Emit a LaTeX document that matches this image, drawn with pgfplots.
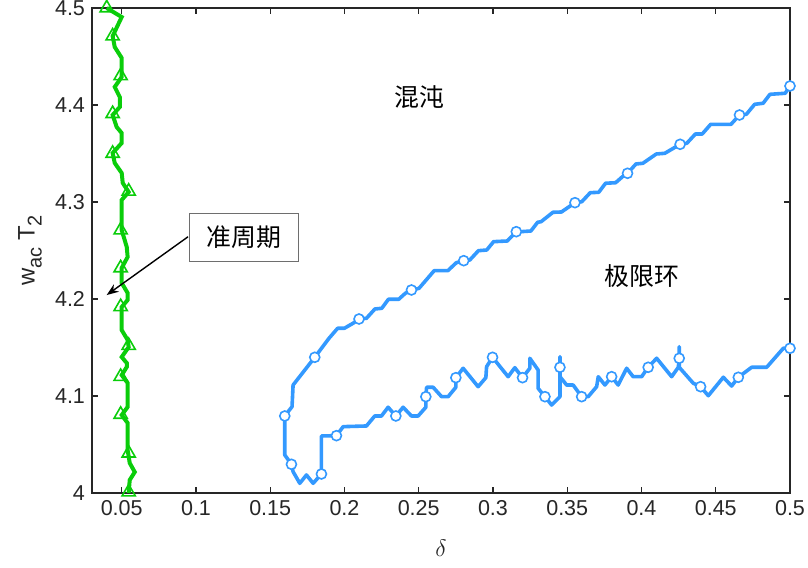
\documentclass[border=0pt]{standalone}
\usepackage{fontspec}
\setmainfont{Liberation Sans}
\newfontfamily\cjk{Noto Sans CJK SC}
\usepackage{pgfplots}
\pgfplotsset{compat=1.18}
\usetikzlibrary{arrows.meta}
\definecolor{mblue}{RGB}{51,153,255}
\definecolor{mgreen}{RGB}{10,205,10}
\definecolor{axgray}{RGB}{38,38,38}
\newcommand{\sub}[1]{\raisebox{-0.55ex}{\fontsize{10}{11}\selectfont #1}}
\begin{document}
\begin{tikzpicture}
\begin{axis}[
  scale only axis, width=349bp, height=242.5bp,
  xmin=0.03, xmax=0.5, ymin=4, ymax=4.5,
  xtick={0.05,0.1,0.15,0.2,0.25,0.3,0.35,0.4,0.45,0.5},
  xticklabels={0.05,0.1,0.15,0.2,0.25,0.3,0.35,0.4,0.45,0.5},
  ytick={4,4.1,4.2,4.3,4.4,4.5},
  yticklabels={4,4.1,4.2,4.3,4.4,4.5},
  tick align=inside, major tick length=3bp,
  axis line style={axgray, line width=0.6bp},
  every tick/.style={axgray, line width=0.6bp},
  tick label style={color=axgray, font=\fontsize{10.8}{13}\selectfont},
  clip=false,
  xlabel={\fontsize{12}{14}\selectfont$\delta$},
  xlabel style={at={(axis description cs:0.5,0)}, anchor=center, yshift=-27.5bp, color=axgray},
  ylabel={\fontsize{12}{14}\selectfont w\sub{ac}\ T\sub{2}},
  ylabel style={at={(axis description cs:0,0.5)}, anchor=center, rotate=0, yshift=31bp, xshift=0bp, color=axgray},
]
% green quasi-periodic boundary
\addplot[mgreen, line width=2bp] coordinates {
(0.0399,4.5) (0.0500,4.4907) (0.0439,4.4710) (0.0453,4.4598) (0.0500,4.4485)
(0.0500,4.4289) (0.0453,4.4186) (0.0487,4.4082) (0.0487,4.3979) (0.0439,4.3897)
(0.0466,4.3773) (0.0500,4.3711) (0.0500,4.3608) (0.0439,4.3505) (0.0453,4.3402)
(0.0500,4.3299) (0.0507,4.3196) (0.0547,4.3103) (0.0500,4.3021) (0.0500,4.2711)
(0.0534,4.2536) (0.0540,4.2433) (0.0500,4.2320) (0.0500,4.2165) (0.0540,4.2062)
(0.0540,4.1990) (0.0500,4.1918) (0.0500,4.1680) (0.0540,4.1577) (0.0547,4.1505)
(0.0500,4.1402) (0.0534,4.1340) (0.0534,4.1299) (0.0500,4.1216) (0.0540,4.1134)
(0.0540,4.0887) (0.0500,4.0804) (0.0540,4.0722) (0.0540,4.0443) (0.0554,4.0309)
(0.0588,4.0216) (0.0554,4.0134) (0.0547,4.0000)
};
\addplot[only marks, mark=triangle, mark size=3.8bp, mark options={draw=mgreen, fill=white, line width=0.8bp}] coordinates {
(0.0399,4.5) (0.0439,4.471) (0.0493,4.430) (0.0439,4.391) (0.0439,4.350)
(0.0547,4.311) (0.0493,4.271) (0.0493,4.232) (0.0493,4.192) (0.0547,4.152)
(0.0493,4.120) (0.0493,4.081) (0.0547,4.041) (0.0547,4.001)
};
% blue limit cycle boundary
\addplot[mblue, line width=1.8bp, line join=round] coordinates {
(0.5000,4.4196) (0.4968,4.4121) (0.4865,4.4110) (0.4819,4.4018) (0.4762,4.4007)
(0.4706,4.3904) (0.4660,4.3897) (0.4603,4.3801) (0.4466,4.3801) (0.4409,4.3701)
(0.4363,4.3701) (0.4305,4.3605) (0.4260,4.3595) (0.4157,4.3502) (0.4100,4.3495)
(0.4009,4.3399) (0.3963,4.3392) (0.3906,4.3296) (0.3872,4.3261) (0.3826,4.3199)
(0.3758,4.3193) (0.3712,4.3100) (0.3655,4.3096) (0.3598,4.3003) (0.3552,4.2993)
(0.3461,4.2897) (0.3404,4.2894) (0.3324,4.2797) (0.3301,4.2791) (0.3255,4.2701)
(0.3186,4.2694) (0.3157,4.2694) (0.3096,4.2598) (0.3004,4.2591) (0.2958,4.2505)
(0.2902,4.2498) (0.2844,4.2402) (0.2803,4.2395) (0.2753,4.2374) (0.2696,4.2292)
(0.2604,4.2292) (0.2502,4.2110) (0.2451,4.2093) (0.2410,4.2059) (0.2365,4.1997)
(0.2296,4.1997) (0.2251,4.1904) (0.2205,4.1897) (0.2148,4.1801) (0.2098,4.1794)
(0.2057,4.1749) (0.1999,4.1698) (0.1954,4.1698) (0.1896,4.1595) (0.1800,4.1399)
(0.1654,4.1113) (0.1647,4.0890) (0.1598,4.0794) (0.1598,4.0392) (0.1643,4.0296)
(0.1654,4.0220) (0.1699,4.0100) (0.1744,4.0186) (0.1789,4.0100) (0.1845,4.0196)
(0.1845,4.0588) (0.1946,4.0591) (0.1991,4.0684) (0.2148,4.0691) (0.2204,4.0794)
(0.2249,4.0794) (0.2294,4.0884) (0.2346,4.0794) (0.2395,4.0884) (0.2451,4.0794)
(0.2496,4.0794) (0.2548,4.0884) (0.2548,4.0993) (0.2553,4.1090) (0.2597,4.1090)
(0.2654,4.0993) (0.2698,4.0993) (0.2750,4.1090) (0.2750,4.1189) (0.2799,4.1286)
(0.2900,4.1096) (0.2952,4.1189) (0.2957,4.1302) (0.2997,4.1399) (0.3102,4.1199)
(0.3147,4.1292) (0.3199,4.1189) (0.3248,4.1286) (0.3248,4.1389) (0.3304,4.1268)
(0.3304,4.1079) (0.3350,4.0993) (0.3395,4.0907) (0.3451,4.0993) (0.3451,4.1405)
(0.3451,4.1296) (0.3451,4.1199) (0.3496,4.1113) (0.3540,4.1113) (0.3597,4.0993)
(0.3641,4.0993) (0.3698,4.1096) (0.3709,4.1199) (0.3754,4.1113) (0.3799,4.1199)
(0.3843,4.1113) (0.3900,4.1286) (0.3944,4.1199) (0.4001,4.1199) (0.4045,4.1296)
(0.4102,4.1389) (0.4203,4.1199) (0.4248,4.1296) (0.4254,4.1389) (0.4254,4.1508)
(0.4254,4.1296) (0.4349,4.1131) (0.4398,4.1096) (0.4450,4.1003) (0.4551,4.1193)
(0.4607,4.1103) (0.4652,4.1193) (0.4742,4.1296) (0.4843,4.1296) (0.4955,4.1492)
(0.5000,4.1492)
};
\addplot[only marks, mark=*, mark size=2.5bp, mark options={draw=mblue, fill=white, line width=0.8bp}] coordinates {
(0.5000,4.4196) (0.4660,4.3897) (0.4260,4.3595) (0.3906,4.3296) (0.3552,4.2993)
(0.3157,4.2694) (0.2803,4.2395) (0.2451,4.2093) (0.2098,4.1794) (0.1800,4.1399)
(0.1598,4.0794) (0.1643,4.0296) (0.1845,4.0196) (0.1946,4.0591) (0.2346,4.0794)
(0.2548,4.0993) (0.2750,4.1189) (0.2997,4.1399) (0.3199,4.1189) (0.3350,4.0993)
(0.3451,4.1296) (0.3597,4.0993) (0.3799,4.1199) (0.4045,4.1296) (0.4254,4.1389)
(0.4398,4.1096) (0.4652,4.1193) (0.5000,4.1492)
};
\node[font=\cjk\fontsize{12.5}{14}\selectfont] at (axis cs:0.2507,4.4082) {混沌};
\node[font=\cjk\fontsize{12.5}{14}\selectfont] at (axis cs:0.4003,4.2237) {极限环};
\draw[black, line width=0.7bp, -{Stealth[length=6bp,width=4.5bp]}] (axis cs:0.0947,4.2642) -- (axis cs:0.0399,4.2041);
\node[draw={rgb,255:red,110;green,110;blue,110}, line width=0.5bp, fill=white, minimum width=54.5bp, minimum height=24bp, inner sep=0pt, font=\cjk\fontsize{12.5}{14}\selectfont] at (axis cs:0.1325,4.2634) {准周期};
\end{axis}
\pgfresetboundingbox
\path ([shift={(-46bp,-37.5bp)}]current axis.south west) rectangle ([shift={(9bp,4bp)}]current axis.north east);
\end{tikzpicture}
\end{document}
